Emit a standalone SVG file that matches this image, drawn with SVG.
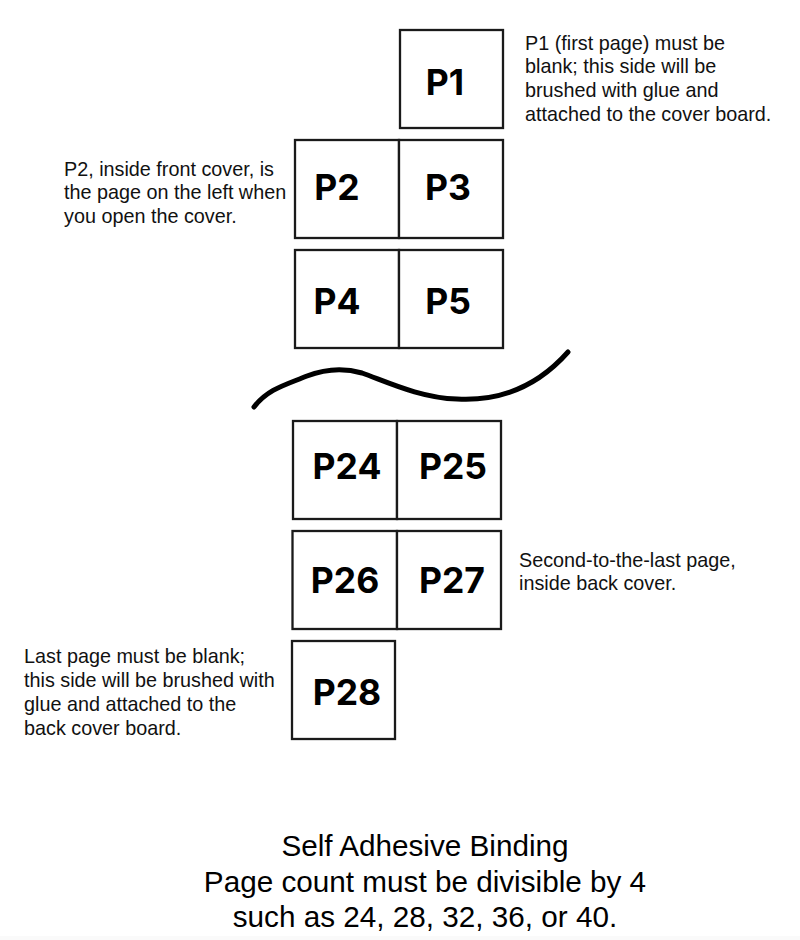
<svg xmlns="http://www.w3.org/2000/svg" width="800" height="940" viewBox="0 0 800 940">
<style>
.b{fill:#fff;stroke:#1a1a1a;stroke-width:2.3}
.p{font-family:"Inter","Liberation Sans",sans-serif;font-weight:700;font-size:35.5px;fill:#000;text-anchor:middle}
.n{font-family:"Liberation Sans",Arial,sans-serif;font-size:19.8px;fill:#111}
.t{font-family:"Liberation Sans",Arial,sans-serif;font-size:29.7px;fill:#000;text-anchor:middle}
</style>
<rect width="800" height="940" fill="#fff"/>
<rect y="936" width="800" height="4" fill="#fafafa"/>
<g id="p1"><rect class="b" x="400" y="30" width="103" height="98"/><text class="p" x="445" y="95">P1</text></g>
<g id="p2"><rect class="b" x="295" y="140" width="104" height="98"/><text class="p" x="337" y="200">P2</text></g>
<g id="p3"><rect class="b" x="399" y="140" width="104" height="98"/><text class="p" x="448" y="200">P3</text></g>
<g id="p4"><rect class="b" x="295" y="250" width="104" height="98"/><text class="p" x="337" y="314">P4</text></g>
<g id="p5"><rect class="b" x="399" y="250" width="104" height="98"/><text class="p" x="448" y="314">P5</text></g>
<g id="p24"><rect class="b" x="293" y="421" width="104" height="98"/><text class="p" x="347" y="479">P24</text></g>
<g id="p25"><rect class="b" x="397" y="421" width="104" height="98"/><text class="p" x="453" y="479">P25</text></g>
<g id="p26"><rect class="b" x="292.5" y="531" width="104.5" height="98"/><text class="p" x="345" y="593">P26</text></g>
<g id="p27"><rect class="b" x="397" y="531" width="104" height="98"/><text class="p" x="452" y="593">P27</text></g>
<g id="p28"><rect class="b" x="292" y="641" width="103" height="98"/><text class="p" x="347" y="705">P28</text></g>
<g id="connectors"><path d="M254 407C268 389 285 385 307 376C325 369 345 368 362 373C385 381 420 398 457 399C510 402 545 378 568 352" fill="none" stroke="#000" stroke-width="5" stroke-linecap="round"/></g>
<g id="notes">
<text class="n" x="525" y="50">P1 (first page) must be</text>
<text class="n" x="525" y="73">blank; this side will be</text>
<text class="n" x="525" y="97">brushed with glue and</text>
<text class="n" x="525" y="121">attached to the cover board.</text>
<text class="n" x="64" y="176">P2, inside front cover, is</text>
<text class="n" x="64" y="199">the page on the left when</text>
<text class="n" x="64" y="223">you open the cover.</text>
<text class="n" x="519" y="567">Second-to-the-last page,</text>
<text class="n" x="519" y="590">inside back cover.</text>
<text class="n" x="24" y="663">Last page must be blank;</text>
<text class="n" x="24" y="687">this side will be brushed with</text>
<text class="n" x="24" y="711">glue and attached to the</text>
<text class="n" x="24" y="735">back cover board.</text>
</g>
<g id="title">
<text class="t" x="425" y="856">Self Adhesive Binding</text>
<text class="t" x="425" y="892">Page count must be divisible by 4</text>
<text class="t" x="425" y="927">such as 24, 28, 32, 36, or 40.</text>
</g>
</svg>
